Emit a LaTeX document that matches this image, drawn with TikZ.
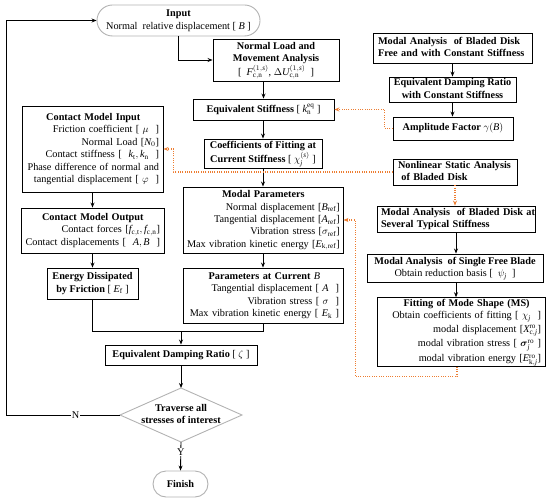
\documentclass[tikz,border=0pt]{standalone}
\usepackage{amsmath}
\usepackage{fontspec}
\setmainfont{Liberation Serif}
\usetikzlibrary{arrows.meta,calc}
\definecolor{org}{RGB}{237,125,49}
\newcommand{\fs}{\fontsize{10.3}{12.4}\selectfont}
\newcommand{\tabR}[1]{\begin{tabular}{@{}r@{}}#1\end{tabular}}
\newcommand{\tabL}[1]{\begin{tabular}{@{}l@{}}#1\end{tabular}}
\newcommand{\tabC}[1]{\begin{tabular}{@{}c@{}}#1\end{tabular}}
\newcommand{\ttl}[1]{\multicolumn{1}{@{}c@{}}{\textbf{#1}}}
\begin{document}
\begin{tikzpicture}[x=1bp,y=-1bp,
  box/.style={draw, line width=0.9bp, inner xsep=4bp, inner ysep=0bp, font=\fs},
  term/.style={draw=gray!60, line width=0.9bp, inner sep=0bp, font=\fs},
  ln/.style={line width=0.9bp},
  arr/.style={line width=0.9bp, -{Stealth[length=5bp,width=4bp]}},
  oarr/.style={draw=org, line width=1.1bp, dash pattern=on 1bp off 1.3bp, -{Stealth[length=5bp,width=4bp,fill=org]}},
  lab/.style={fill=white, inner sep=1bp, font=\fs}]
\useasboundingbox (0,0) rectangle (550,501);

% central column
\node[term, minimum width=163bp, minimum height=31bp, rounded corners=15.5bp] (in) at (178.5,20.5)
  {\tabC{\textbf{Input}\\Normal\ \ relative displacement [ $\mathit{B}$ ]}};
\node[box, minimum width=126bp, minimum height=42bp] (nl) at (276,60)
  {\tabC{\textbf{Normal Load and}\\\textbf{Movement Analysis}\\{}[ \ $\mathit{F}^{(1,\mathit{s})}_{\mathrm{c,n}}$, $\Delta \mathit{U}^{(1,\mathit{s})}_{\mathrm{c,n}}$ \ ]}};
\node[box, minimum width=141bp, minimum height=21bp] (es) at (263.5,109.5)
  {\textbf{Equivalent Stiffness} [ $\mathit{k}_{\mathrm{n}}^{\mathrm{eq}}$ ]};
\node[box, minimum width=118bp, minimum height=29bp] (cf) at (263,153.5)
  {\tabC{\textbf{Coefficients of Fitting at}\\\textbf{Current Stiffness} [ $\chi_{\mathit{j}}^{(\mathit{s})}$ ]}};
\node[box, minimum width=160bp, minimum height=66bp, text width=152bp, align=right] (mp) at (263,220)
  {\tabR{\ttl{Modal Parameters}\\Normal displacement [$\mathit{B}_{\mathrm{ref}}$]\\Tangential displacement [$\mathit{A}_{\mathrm{ref}}$]\\Vibration stress [$\sigma_{\mathrm{ref}}$]\\Max vibration kinetic energy [$\mathit{E}_{\mathrm{k,ref}}$]}};
\node[box, minimum width=160bp, minimum height=55bp, text width=152bp, align=right] (pc) at (263,295.5)
  {\tabR{\multicolumn{1}{@{}c@{}}{\textbf{Parameters at Current} $\mathit{B}$}\\Tangential displacement [ $\mathit{A}$ \ ]\\Vibration stress [ $\sigma$ \ ]\\Max vibration kinetic energy [ $\mathit{E}_{\mathrm{k}}$ ]}};

% left column
\node[box, minimum width=141bp, minimum height=86bp, text width=133bp, align=right] (L1) at (92.5,149)
  {\tabR{\ttl{Contact Model Input}\\Friction coefficient [ $\mu$ \ ]\\Normal Load [$\mathit{N}_0$]\\Contact stiffness [ \ $\mathit{k}_{\mathrm{t}}, \mathit{k}_{\mathrm{n}}$ \ ]\\Phase difference of normal and\\tangential displacement [ $\varphi$ \ ]}};
\node[box, minimum width=143bp, minimum height=45bp, text width=135bp, align=right] (L2) at (92.5,230.5)
  {\tabR{\ttl{Contact Model Output}\\Contact forces [$\mathit{f}_{\mathrm{c,t}}, \mathit{f}_{\mathrm{c,n}}$]\\Contact displacements [ \ $\mathit{A}, \mathit{B}$ \ ]}};
\node[box, minimum width=91bp, minimum height=31bp] (L3) at (92.5,283.5)
  {\tabC{\textbf{Energy Dissipated}\\\textbf{by Friction} [ $\mathit{E}_{\mathrm{f}}$ ]}};

% bottom
\node[box, minimum width=152bp, minimum height=20bp] (ed) at (181,355)
  {\textbf{Equivalent Damping Ratio} [ $\zeta$ ]};
\coordinate (dN) at (181,388);
\coordinate (dE) at (242,415);
\coordinate (dS) at (181,442);
\coordinate (dW) at (120,415);
\draw[draw=gray!60, line width=0.9bp] (dN) -- (dE) -- (dS) -- (dW) -- cycle;
\node[font=\fs, inner sep=0bp] (dia) at (181,415) {\tabC{\textbf{Traverse all}\\\textbf{stresses of interest}}};
\node[term, minimum width=55bp, minimum height=26bp, rounded corners=13bp] (fin) at (180.5,484) {\textbf{Finish}};
\coordinate (lp) at (6,415);

% right column
\node[box, inner xsep=5bp, minimum width=159bp, minimum height=30bp, text width=149bp, align=left] (R1) at (452.5,48)
  {\tabL{\textbf{Modal Analysis\ \ of Bladed Disk}\\\textbf{Free and with Constant Stiffness}}};
\node[box, minimum width=127bp, minimum height=25bp] (R2) at (452.5,89.5)
  {\tabC{\textbf{Equivalent Damping Ratio}\\\textbf{with Constant Stiffness}}};
\node[box, minimum width=120bp, minimum height=23bp] (R3) at (453,128.5)
  {\textbf{Amplitude Factor} $\gamma(\mathit{B})$};
\node[box, inner xsep=5bp, minimum width=124bp, minimum height=26bp, text width=114bp, align=left] (R4) at (455,172)
  {\tabL{\textbf{Nonlinear Static Analysis}\\\textbf{\ of Bladed Disk}}};
\node[box, minimum width=158bp, minimum height=26bp, text width=150bp, align=left] (R5) at (456,219)
  {\tabL{\textbf{Modal Analysis\ \ of Bladed Disk at}\\\textbf{Several Typical Stiffness}}};
\node[box, minimum width=176bp, minimum height=28bp] (R6) at (455,268)
  {\tabC{\textbf{Modal Analysis\ \ of Single Free Blade}\\Obtain reduction basis [ \ $\psi_{\mathit{j}}$ \ ]}};
\node[box, minimum width=168bp, minimum height=68bp, text width=160bp, align=right] (R7) at (461,332)
  {\tabR{\ttl{Fitting of Mode Shape (MS)}\\Obtain coefficients of fitting [ $\chi_{\mathit{j}}$ \ ]\\[1bp]modal displacement [$\mathit{X}^{\mathrm{ro}}_{\mathrm{c},\mathit{j}}$]\\[2.5bp]modal vibration stress [ $\boldsymbol{\sigma}^{\mathrm{ro}}_{\mathit{j}}$ ]\\[2.5bp]modal vibration energy [$\mathit{E}^{\mathrm{ro}}_{\mathrm{k},\mathit{j}}$]}};

% black connectors
\draw[arr] (in.south) |- (nl.west);
\draw[arr] (es.north |- nl.south) -- (es.north);
\draw[arr] (cf.north |- es.south) -- (cf.north);
\draw[arr] (cf.south) -- (mp.north);
\draw[arr] (mp.south) -- (pc.north);
\draw[arr] (L1.south) -- (L2.north);
\draw[arr] (L2.south) -- (L3.north);
\coordinate (jn) at (181,331);
\draw[ln] (L3.south) |- (pc.south |- jn) -- (pc.south);
\draw[arr] (jn) -- (ed.north);
\draw[arr] (ed.south) -- (dN);
\draw[arr] (dS) -- node[lab, pos=0.35] {Y} (fin.north);
\draw[arr] (dW) -- node[lab, pos=0.39] {N} (lp) |- (in.west);
\draw[arr] (R1.south) -- (R1.south |- R2.north);
\draw[arr] (R2.south) -- (R2.south |- R3.north);
\draw[arr] (R5.south) -- (R5.south |- R6.north);
\draw[arr] (R5.south |- R6.south) -- (R5.south |- R7.north);

% orange dotted connectors
\draw[oarr] (R3.west) -- ++(-8,0) |- (es.east);
\draw[oarr] (R4.west) -| ([xshift=10bp]L1.east) -- (L1.east);
\draw[oarr] (R4.south) -- (R4.south |- R5.north);
\draw[oarr] ([xshift=-4bp]R7.south) -- ++(0,10) -| ([xshift=12bp]mp.east) -- (mp.east);
\end{tikzpicture}
\end{document}
